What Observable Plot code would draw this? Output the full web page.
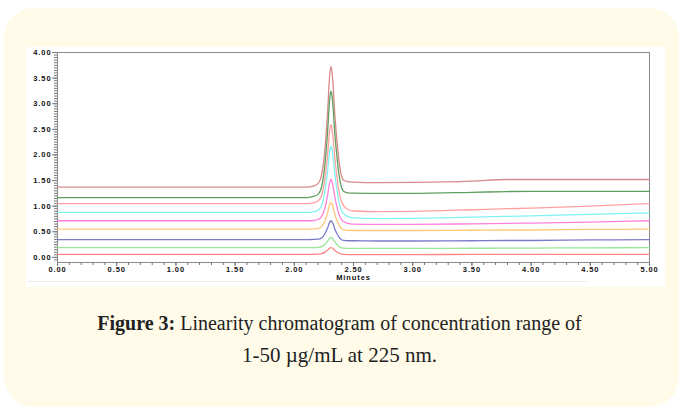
<!DOCTYPE html>
<html><head><meta charset="utf-8">
<script src="https://cdn.jsdelivr.net/npm/d3@7"></script>
<script src="https://cdn.jsdelivr.net/npm/@observablehq/plot@0.6"></script>
<style>
html,body{margin:0;padding:0;background:#fff;}
body{width:679px;height:409px;position:relative;overflow:hidden;}
#card{position:absolute;left:4px;top:8px;width:675px;height:399px;background:#fffbe8;border-radius:30px;}
#panel{position:absolute;left:22px;top:39px;width:639px;height:240px;background:#fff;}
#panel svg{display:block;}
#rule{position:absolute;left:2px;top:234px;width:560px;height:1px;background:#ececec;}
#caption{position:absolute;left:0;top:307px;width:679px;text-align:center;font-family:"Liberation Serif",serif;font-size:20px;line-height:32px;color:#222;}
#caption .l2{font-size:21px;}
#caption b{font-weight:bold;}
</style></head>
<body>
<div id="card"><div id="panel"><div id="rule"></div></div></div>
<div id="caption"><b>Figure 3:</b> Linearity chromatogram of concentration range of<br><span class="l2">1-50 µg/mL at 225 nm.</span></div>
<script>
// retention time (minutes)
const time = [0, 0.5, 1.0, 1.5, 2.0, 2.10, 2.16, 2.20, 2.23, 2.26, 2.28, 2.30, 2.31, 2.32, 2.33, 2.34, 2.36, 2.38, 2.40, 2.42, 2.45, 2.50, 2.70, 3.00, 3.50, 3.80, 4.00, 4.50, 5.00];
// absorbance traces (AU), top to bottom
const trace1 = [1.37,1.37,1.37,1.37,1.37,1.37,1.39,1.44,1.61,2.15,2.79,3.59,3.73,3.59,3.28,2.87,2.28,1.83,1.58,1.50,1.48,1.47,1.46,1.465,1.49,1.52,1.52,1.52,1.52];
const trace2 = [1.165,1.165,1.165,1.165,1.165,1.165,1.19,1.23,1.37,1.85,2.41,3.12,3.245,3.13,2.85,2.49,1.97,1.57,1.355,1.285,1.26,1.255,1.25,1.25,1.27,1.285,1.29,1.29,1.29];
const trace3 = [1.05,1.05,1.05,1.05,1.05,1.05,1.065,1.10,1.20,1.56,1.97,2.50,2.59,2.49,2.27,1.99,1.57,1.25,1.08,1.00,0.94,0.905,0.895,0.90,0.93,0.95,0.96,1.00,1.05];
const trace4 = [0.88,0.88,0.88,0.88,0.88,0.88,0.89,0.92,1.01,1.31,1.65,2.09,2.17,2.09,1.90,1.67,1.32,1.05,0.91,0.85,0.80,0.77,0.755,0.76,0.785,0.80,0.81,0.84,0.87];
const trace5 = [0.715,0.715,0.715,0.715,0.715,0.715,0.72,0.74,0.795,0.98,1.20,1.47,1.52,1.47,1.35,1.21,0.99,0.82,0.73,0.695,0.665,0.65,0.645,0.645,0.655,0.665,0.67,0.69,0.715];
const trace6 = [0.55,0.55,0.55,0.55,0.55,0.55,0.555,0.565,0.60,0.72,0.86,1.04,1.07,1.04,0.96,0.865,0.72,0.62,0.557,0.538,0.527,0.525,0.525,0.525,0.53,0.535,0.535,0.545,0.55];
const trace7 = [0.345,0.345,0.345,0.345,0.345,0.345,0.35,0.355,0.38,0.467,0.567,0.693,0.715,0.69,0.64,0.567,0.465,0.387,0.345,0.33,0.325,0.325,0.32,0.32,0.325,0.33,0.33,0.34,0.345];
const trace8 = [0.19,0.19,0.19,0.19,0.19,0.19,0.19,0.196,0.21,0.256,0.31,0.378,0.39,0.377,0.347,0.308,0.252,0.209,0.186,0.178,0.176,0.175,0.175,0.175,0.178,0.18,0.182,0.186,0.19];
const trace9 = [0.06,0.06,0.06,0.06,0.06,0.06,0.06,0.064,0.073,0.103,0.138,0.182,0.19,0.182,0.163,0.139,0.104,0.077,0.062,0.057,0.055,0.055,0.055,0.055,0.057,0.058,0.058,0.06,0.06];
const traceNames = ["t1","t2","t3","t4","t5","t6","t7","t8","t9"];
const traceColors = ["#d98a8a","#5f9f5f","#ffa0a0","#80f2f2","#ff80de","#ffc878","#7b7bcc","#9ae69a","#ff8484"];
// axis ticks
const yTicks = [0, 0.5, 1.0, 1.5, 2.0, 2.5, 3.0, 3.5, 4.0];
const xTicks = [0, 0.5, 1.0, 1.5, 2.0, 2.5, 3.0, 3.5, 4.0, 4.5, 5.0];
const yMinor = d3.range(-0.05, 4.001, 0.05);
const xMinor = d3.range(0, 5.001, 0.1);

const series = [trace1, trace2, trace3, trace4, trace5, trace6, trace7, trace8, trace9];
const table = [];
series.forEach((s, i) => s.forEach((v, j) => table.push({t: time[j], v, k: traceNames[i]})));

const fontStyle = {fontFamily: "'Liberation Sans', Arial, sans-serif", fontWeight: "bold", fontSize: "7.5px", letterSpacing: "0.9px"};

const chart = Plot.plot({
  width: 639, height: 240,
  marginTop: 5, marginLeft: 31, marginRight: 16, marginBottom: 25,
  style: {background: "transparent", color: "#111", ...fontStyle},
  x: {domain: [0, 5], label: null},
  y: {domain: [-0.1, 4.0], label: null},
  color: {domain: traceNames, range: traceColors},
  marks: [
    Plot.frame({stroke: "#8a8a8a", strokeWidth: 1}),
    Plot.axisY({ticks: yMinor, tickSize: 3, text: null, stroke: "#777"}),
    Plot.axisY({ticks: yTicks, tickSize: 5, tickPadding: 1, tickFormat: d => d.toFixed(2), stroke: "#777"}),
    Plot.axisX({ticks: xMinor, tickSize: 3, text: null, stroke: "#777"}),
    Plot.axisX({ticks: xTicks, tickSize: 4, tickPadding: 0, tickFormat: d => d.toFixed(2), stroke: "#777"}),
    Plot.text(["Minutes"], {frameAnchor: "bottom", dy: 17, fill: "#111"}),
    Plot.line(table, {x: "t", y: "v", z: "k", stroke: "k", strokeWidth: 1.3, curve: "monotone-x"})
  ]
});
document.getElementById("panel").appendChild(chart);
</script>
</body></html>
